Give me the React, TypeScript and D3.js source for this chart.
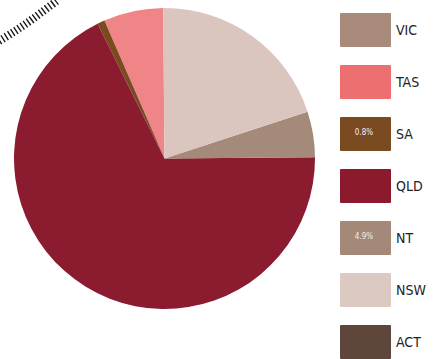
import React from "react";
import * as d3 from "d3";

const categories = ["VIC", "TAS", "SA", "QLD", "NT", "NSW", "ACT"];
const values = [0, 6.4, 0.8, 67.8, 4.9, 20.1, 0];
const sliceColors = ["#a88a7b", "#f08587", "#7a4a20", "#8b1b2e", "#a58a7a", "#dac6be", "#5f473c"];
const swatchColors = ["#a88a7b", "#ee6f6f", "#7a4a20", "#8b1a2c", "#a48978", "#dcc9c1", "#5e463b"];
const swatchLabels = ["", "", "0.8%", "", "4.9%", "", ""];

const W = 439;
const H = 359;
const cx = 164.5;
const cy = 158.5;
const R = 150.5;

export default function App() {
  const start = (-0.5 * Math.PI) / 180;
  const pie = d3
    .pie<number>()
    .sort(null)
    .startAngle(start)
    .endAngle(start - 2 * Math.PI)
    .value((d) => d);
  const arcs = pie(values);
  const arcGen = d3.arc<d3.PieArcDatum<number>>().innerRadius(0).outerRadius(R);

  const legendY = d3.scaleBand<string>().domain(categories).range([4, 4 + 52 * 7]).paddingInner(0);

  const hatchPts: [number, number][] = [
    [-4, 43],
    [12, 33],
    [27, 23],
    [42, 12],
    [58, 0],
  ];
  const hatchLine = d3.line().curve(d3.curveCatmullRom)(hatchPts) || "";

  return (
    <svg
      width={W}
      height={H}
      style={{ position: "absolute", left: 0, top: 0, background: "#fff" }}
    >
      <path d={hatchLine} fill="none" stroke="#1a1a1a" strokeWidth={8} strokeDasharray="1.4 2.4" />
      <g transform={`translate(${cx},${cy})`}>
        {arcs.map((a, i) =>
          a.value > 0 ? <path key={categories[i]} d={arcGen(a) || ""} fill={sliceColors[i]} /> : null
        )}
      </g>
      <g>
        {categories.map((c, i) => {
          const y = (legendY(c) || 0) + 9;
          return (
            <g key={c}>
              <rect x={340} y={y} width={51} height={34} fill={swatchColors[i]} rx={1} />
              {swatchLabels[i] ? (
                <text
                  x={364}
                  y={y + 17}
                  dy="0.1em"
                  textAnchor="middle"
                  fontSize={8}
                  fontFamily="'DejaVu Sans Condensed', 'Liberation Sans Narrow', 'DejaVu Sans', sans-serif"
                  fill="#f4ece6"
                >
                  {swatchLabels[i]}
                </text>
              ) : null}
              <text
                x={396}
                y={y + 17}
                dy="0.36em"
                fontSize={14}
                fontFamily="'Liberation Sans Narrow', 'DejaVu Sans Condensed', 'Liberation Sans', sans-serif"
                fill="#222"
              >
                {c}
              </text>
            </g>
          );
        })}
      </g>
    </svg>
  );
}
